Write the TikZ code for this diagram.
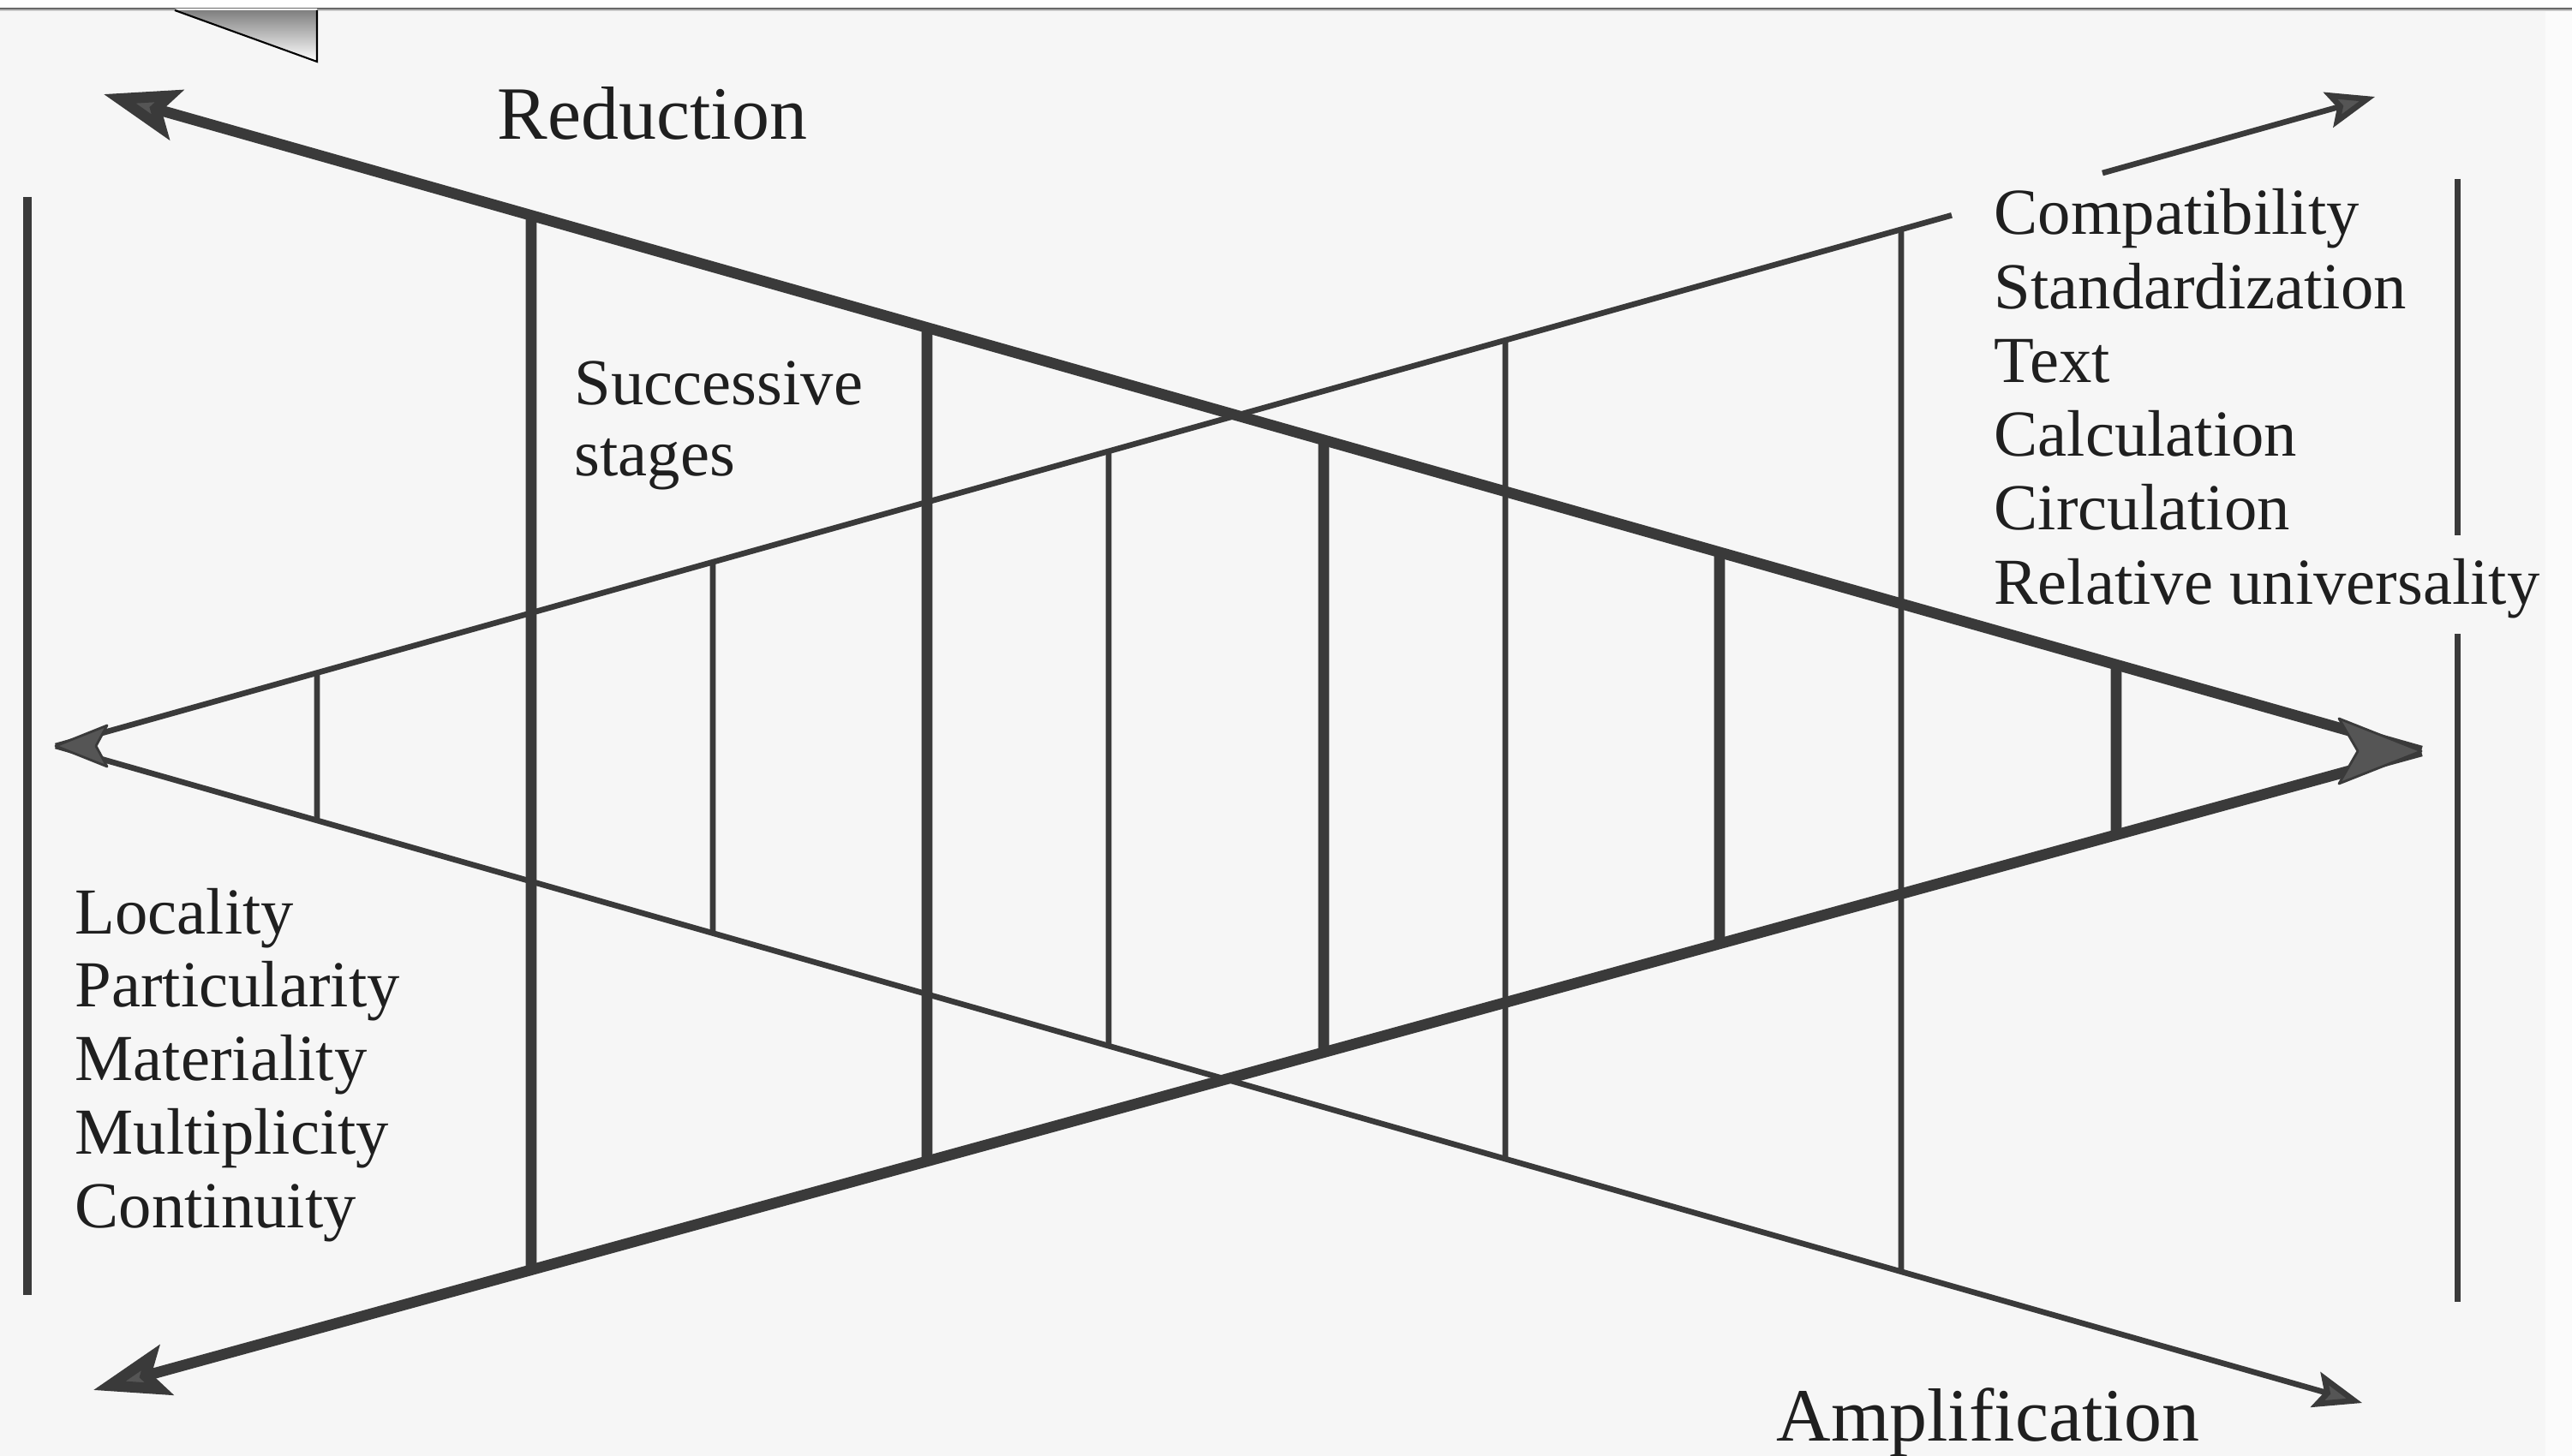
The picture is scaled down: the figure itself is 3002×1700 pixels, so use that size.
\documentclass[tikz,border=0pt]{standalone}
\usepackage{fontspec}
\setmainfont{Liberation Serif}
\usetikzlibrary{arrows.meta}
\usetikzlibrary{calc}

\definecolor{ink}{HTML}{3A3A3A}
\definecolor{headgray}{HTML}{555555}
\definecolor{paper}{HTML}{F6F6F6}
\definecolor{shade}{HTML}{E2DFEC}

\tikzset{
  heavy/.style={draw=ink, line width=3.6pt},
  light/.style={draw=ink, line width=1.9pt},
  bighead/.style={-{Stealth[length=25pt, width=17pt, inset=5pt, fill=headgray]}},
  smallhead/.style={-{Stealth[length=16pt, width=12pt, inset=3pt, fill=headgray]}},
  headshape/.style={fill=headgray, draw=ink, line width=0.8pt, line join=round},
  word/.style={anchor=base west, inner sep=0pt, text=black!88, font=\fontsize{21.8}{24}\selectfont},
  title/.style={anchor=base west, inner sep=0pt, text=black!88, font=\fontsize{25}{28}\selectfont},
}

\begin{document}
\begin{tikzpicture}[x=0.01cm, y=-0.01cm]
\useasboundingbox (0,0) rectangle (3002,1700);
\fill [paper] (0,0) rectangle (3002,1700);
\fill [white!55!paper] (2971,12) rectangle (3002,1700);
\fill [white] (0,0) rectangle (3002,10);
\fill [shade] (0,10) rectangle (3002,13);
\fill [white] (204,10) -- (370,10) -- (370,72) -- cycle;
\draw [shade, line width=0.6pt] (204,12) -- (370,72) -- (370,12);

\coordinate (atip) at (121,110);
\coordinate (btip) at (109,1623);
\coordinate (apex) at (2826,877);
\coordinate (ltip) at (65,871);
\coordinate (ctip) at (2772,113);
\coordinate (dtip) at (2757,1638);
\coordinate (cbreak) at ($(ltip)!0.8175!(ctip)$);
\coordinate (cresume) at ($(ltip)!0.8825!(ctip)$);

\draw [heavy, bighead] (apex) -- (atip);
\draw [heavy, bighead] (apex) -- (btip);
\draw [light] (ltip) -- (cbreak);
\draw [light, smallhead] (cresume) -- (ctip);
\draw [light, smallhead] (ltip) -- (dtip);
\draw [headshape] (apex) -- ++(-96,-38) -- ++(22,38) -- ++(-22,38) -- cycle;
\draw [headshape] (ltip) -- ++(60,-24) -- ++(-13,24) -- ++(13,24) -- cycle;

\foreach \x in {370,832,1294,1757,2219}
  \draw [light] ($(ltip)!{(\x-65)/2707}!(ctip)$) -- ($(ltip)!{(\x-65)/2692}!(dtip)$);
\foreach \x in {620,1082,1545,2007,2470}
  \draw [heavy] ($(apex)!{(2826-\x)/2705}!(atip)$) -- ($(apex)!{(2826-\x)/2717}!(btip)$);

\coordinate (lbartop) at (32,230);
\coordinate (lbarbot) at (32,1512);
\coordinate (rbartop) at (2868,209);
\coordinate (rbarupper) at (2868,625);
\coordinate (rbarlower) at (2868,740);
\coordinate (rbarbot) at (2868,1520);
\draw [draw=ink, line width=2.8pt] (lbartop) -- (lbarbot);
\draw [draw=ink, line width=2pt] (rbartop) -- (rbarupper);
\draw [draw=ink, line width=2pt] (rbarlower) -- (rbarbot);

\node [title] (reduction) at (580,163) {Reduction};
\node [title] (amplification) at (2073,1682) {Amplification};
\node [word] (successive) at (670,472) {Successive};
\node [word] (stages) at (670,555) {stages};
\foreach \w [count=\i] in {Compatibility, Standardization, Text, Calculation, Circulation, Relative universality}
  \node [word] (right\i) at (2327,{274+86.2*(\i-1)}) {\w};
\foreach \w [count=\i] in {Locality, Particularity, Materiality, Multiplicity, Continuity}
  \node [word] (left\i) at (87,{1090+85.8*(\i-1)}) {\w};
\end{tikzpicture}
\end{document}
